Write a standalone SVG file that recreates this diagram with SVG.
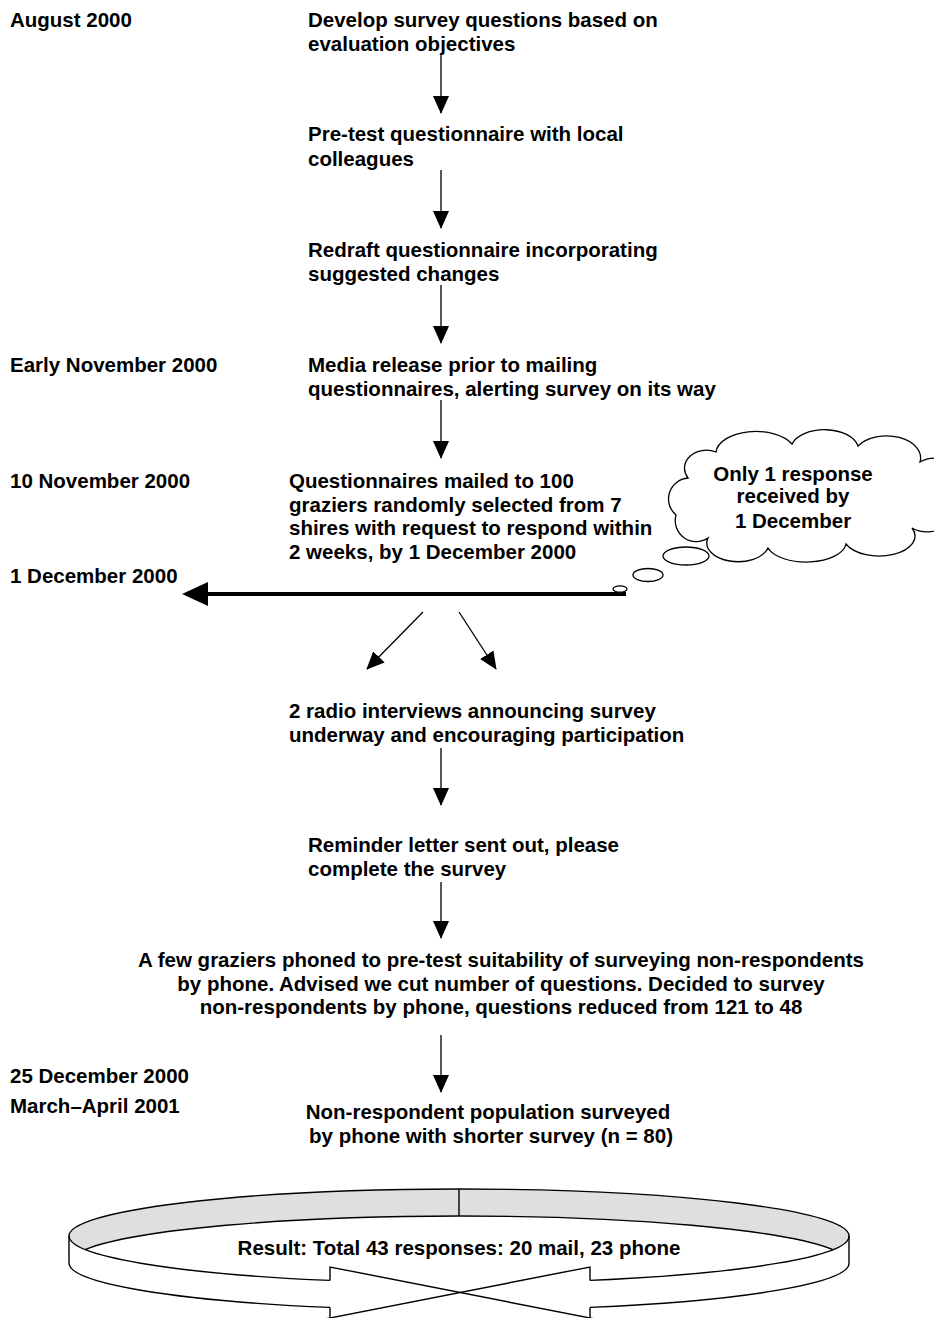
<svg xmlns="http://www.w3.org/2000/svg" width="934" height="1318" viewBox="0 0 934 1318">
<style>
text{font-family:"Liberation Sans",Arial,sans-serif;font-weight:bold;font-size:20.5px;fill:#000}
.c{text-anchor:middle}
.ln{stroke:#000;stroke-width:1.3;fill:none}
.ring{stroke:#000;stroke-width:1.4;fill:none}
</style>
<defs>
<marker id="ah" markerUnits="userSpaceOnUse" markerWidth="18" markerHeight="16" viewBox="0 0 18 16" refX="17" refY="8" orient="auto">
<path d="M0,0 L18,8 L0,16 Z" fill="#000"/>
</marker>
</defs>
<rect width="934" height="1318" fill="#fff"/>

<g id="dates">
<text x="10" y="27">August 2000</text>
<text x="10" y="372">Early November 2000</text>
<text x="10" y="488">10 November 2000</text>
<text x="10" y="583">1 December 2000</text>
<text x="10" y="1083">25 December 2000</text>
<text x="10" y="1113">March–April 2001</text>
</g>

<g id="n1"><text x="308" y="27">Develop survey questions based on</text><text x="308" y="51">evaluation objectives</text></g>
<g id="n2"><text x="308" y="141">Pre-test questionnaire with local</text><text x="308" y="166">colleagues</text></g>
<g id="n3"><text x="308" y="257">Redraft questionnaire incorporating</text><text x="308" y="281">suggested changes</text></g>
<g id="n4"><text x="308" y="372">Media release prior to mailing</text><text x="308" y="396">questionnaires, alerting survey on its way</text></g>
<g id="n5"><text x="289" y="488">Questionnaires mailed to 100</text><text x="289" y="512">graziers randomly selected from 7</text><text x="289" y="535">shires with request to respond within</text><text x="289" y="559">2 weeks, by 1 December 2000</text></g>

<g id="cloud">
<path class="ln" d="M688,478 A22,18 0 0 1 716,452 A40,22 0 0 1 792,444 A34,20 0 0 1 858,446 A34,22 0 0 1 920,462 A26,22 0 0 1 950,500 A26,22 0 0 1 912,528 A36,20 0 0 1 846,544 A40,20 0 0 1 768,548 A30,18 0 0 1 708,538 A21,21 0 0 1 676,515 A21,21 0 0 1 688,478 Z" style="fill:#fff"/>
<ellipse class="ln" cx="686" cy="556" rx="23" ry="9" style="fill:#fff"/>
<ellipse class="ln" cx="648" cy="575" rx="15" ry="6.5" style="fill:#fff"/>
<text class="c" x="793" y="481">Only 1 response</text>
<text class="c" x="793" y="503">received by</text>
<text class="c" x="793" y="528">1 December</text>
</g>

<g id="n6"><text x="289" y="718">2 radio interviews announcing survey</text><text x="289" y="742">underway and encouraging participation</text></g>
<g id="n7"><text x="308" y="852">Reminder letter sent out, please</text><text x="308" y="876">complete the survey</text></g>
<g id="n8"><text class="c" x="501" y="967">A few graziers phoned to pre-test suitability of surveying non-respondents</text><text class="c" x="501" y="991">by phone. Advised we cut number of questions. Decided to survey</text><text class="c" x="501" y="1014">non-respondents by phone, questions reduced from 121 to 48</text></g>
<g id="n9"><text class="c" x="488" y="1119">Non-respondent population surveyed</text><text class="c" x="491" y="1143">by phone with shorter survey (n = 80)</text></g>

<g id="connectors">
<line class="ln" x1="441" y1="55" x2="441" y2="113" marker-end="url(#ah)"/>
<line class="ln" x1="441" y1="170" x2="441" y2="228" marker-end="url(#ah)"/>
<line class="ln" x1="441" y1="285" x2="441" y2="343" marker-end="url(#ah)"/>
<line class="ln" x1="441" y1="400" x2="441" y2="458" marker-end="url(#ah)"/>
<line class="ln" x1="423" y1="612" x2="367" y2="669" marker-end="url(#ah)"/>
<line class="ln" x1="459" y1="612" x2="496" y2="669" marker-end="url(#ah)"/>
<line class="ln" x1="441" y1="748" x2="441" y2="805" marker-end="url(#ah)"/>
<line class="ln" x1="441" y1="882" x2="441" y2="938" marker-end="url(#ah)"/>
<line class="ln" x1="441" y1="1035" x2="441" y2="1092" marker-end="url(#ah)"/>
<line x1="626" y1="594" x2="205" y2="594" stroke="#000" stroke-width="4"/>
<polygon points="182,594 208,582 208,606" fill="#000"/>
<ellipse class="ln" cx="620" cy="589" rx="7" ry="3.2" style="fill:#fff"/>
</g>

<g id="result">
<ellipse cx="459" cy="1236" rx="390" ry="47" fill="#dfdfdf"/>
<ellipse cx="459" cy="1263" rx="390" ry="47" fill="#fff"/>
<path class="ring" d="M69,1236 A390,47 0 0 1 849,1236"/>
<path class="ring" d="M69,1236 A390,47 0 0 0 330,1280.4 M590,1280.4 A390,47 0 0 0 849,1236"/>
<path class="ring" d="M85.4,1249.5 A390,47 0 0 1 832.6,1249.5"/>
<path class="ring" d="M69,1263 A390,47 0 0 0 330,1307.4 M590,1307.4 A390,47 0 0 0 849,1263"/>
<path class="ring" d="M69,1236 V1263 M849,1236 V1263 M459,1189 V1216"/>
<path class="ring" d="M330,1280.4 V1267 L720,1343.5 M330,1307.4 V1330 M590,1280.4 V1267 L200,1343.5 M590,1307.4 V1330"/>
<text class="c" x="459" y="1255">Result: Total 43 responses: 20 mail, 23 phone</text>
</g>
</svg>
